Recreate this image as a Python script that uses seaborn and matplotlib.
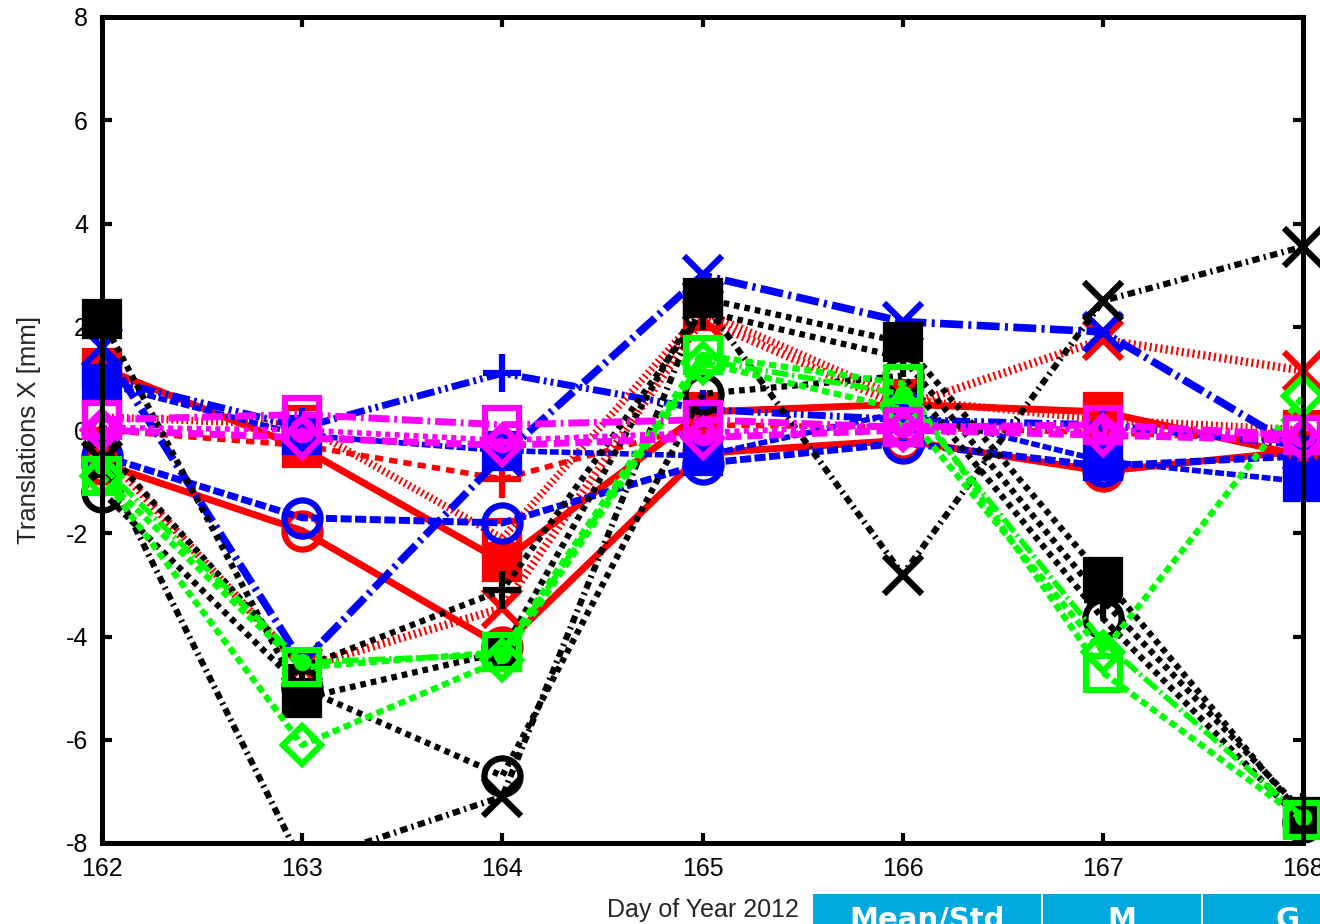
import matplotlib
matplotlib.use("Agg")
import matplotlib.pyplot as plt
import seaborn as sns
from matplotlib.patches import Rectangle

# ---------------- data ----------------
days = [162, 163, 164, 165, 166, 167, 168]
x_ticks = [162, 163, 164, 165, 166, 167, 168]
y_ticks = [-8, -6, -4, -2, 0, 2, 4, 6, 8]

red_circle = [-0.65, -1.95, -4.2, -0.45, -0.2, -0.8, -0.4]
red_square = [1.2, -0.35, -2.55, 0.35, 0.5, 0.35, -0.5]
red_cross = [-0.4, -4.6, -3.45, 2.15, 0.45, 1.75, 1.15]
red_plus = [0.0, -0.3, -0.95, 0.1, 0.05, -0.05, -0.2]
red_osquare = [0.25, 0.1, -2.1, 2.3, 0.6, 0.2, 0.0]

blue_cross = [1.6, -4.5, -0.5, 3.0, 2.1, 1.9, -0.4]
blue_plus = [1.0, 0.05, 1.1, 0.4, 0.2, 0.1, -0.3]
blue_circle = [-0.5, -1.7, -1.8, -0.65, -0.25, -0.7, -0.5]
blue_square = [0.9, -0.1, -0.4, -0.5, 0.35, -0.6, -1.0]

black_cross = [-0.6, -8.4, -7.1, 2.5, -2.8, 2.5, 3.55]
black_circle = [-1.2, -5.0, -6.7, 0.7, 1.05, -3.65, -7.6]
black_square = [2.15, -5.2, -4.3, 2.55, 1.7, -2.85, -7.5]
black_plus = [-0.3, -4.6, -3.1, 2.3, 1.4, -3.3, -7.4]

green_osquare = [-0.9, -4.6, -4.3, 1.45, 0.9, -4.7, -7.55]
green_diamond = [-0.9, -6.1, -4.45, 1.3, 0.4, -4.3, 0.65]
green_dot = [-0.7, -4.5, -4.35, 1.35, 0.7, -4.1, -7.5]

magenta_osquare = [0.2, 0.3, 0.1, 0.2, 0.05, 0.1, -0.1]
magenta_diamond = [0.0, -0.15, -0.3, -0.15, 0.0, -0.1, -0.2]
magenta_circle = [0.05, 0.0, -0.2, -0.05, 0.1, 0.0, -0.1]

table_headers = ["Mean/Std", "M", "G"]

# ---------------- styles ----------------
RED, BLUE, BLACK, GREEN, MAG = "#ff0000", "#0000ff", "#000000", "#00ff00", "#ff00ff"
solid = "-"
dotted = (0, (0.9, 0.8))
dense = (0, (1.6, 0.5))
dashed = (0, (1.5, 1.1))
dashdot = (0, (3.0, 0.7, 0.4, 0.7))
dashdotdot = (0, (2.6, 0.6, 0.4, 0.6, 0.4, 0.6))
kdashdot = (0, (1.2, 0.7, 0.35, 0.7))
fine = (0, (0.25, 0.4))
gdot = (0, (1.2, 0.7))
mdash = (0, (2.2, 0.9))

# (values, color, linestyle, lw, marker, markersize, filled)
series = [
    (red_circle, RED, solid, 5.0, "o", 26, False),
    (red_square, RED, solid, 5.0, "s", 25, True),
    (red_cross, RED, fine, 6.0, "x", 27, False),
    (red_plus, RED, dashed, 4.0, "+", 27, False),
    (red_osquare, RED, fine, 5.5, "s", 25, False),
    (blue_cross, BLUE, dashdot, 5.5, "x", 27, False),
    (blue_plus, BLUE, dashdotdot, 5.0, "+", 27, False),
    (blue_circle, BLUE, dense, 5.0, "o", 26, False),
    (blue_square, BLUE, dense, 4.0, "s", 25, True),
    (black_cross, BLACK, kdashdot, 4.5, "x", 27, False),
    (black_circle, BLACK, dotted, 4.5, "o", 26, False),
    (black_square, BLACK, dotted, 4.5, "s", 25, True),
    (black_plus, BLACK, dotted, 4.5, "+", 27, False),
    (green_osquare, GREEN, gdot, 4.5, "s", 25, False),
    (green_diamond, GREEN, gdot, 4.5, "D", 19, False),
    (green_dot, GREEN, dashdot, 4.0, "o", 8, True),
    (magenta_osquare, MAG, dashdot, 5.0, "s", 25, False),
    (magenta_diamond, MAG, mdash, 5.0, "D", 19, False),
    (magenta_circle, MAG, dotted, 4.0, "o", 14, False),
]

# ---------------- figure ----------------
sns.set_theme(style="white")
plt.rcParams["font.family"] = ["Liberation Sans", "DejaVu Sans"]

fig = plt.figure(figsize=(13.2, 9.24), dpi=100)
ax = fig.add_axes([102 / 1320, 1 - 843 / 924, (1303 - 102) / 1320, (843 - 17) / 924])

YMIN, YMAX = -8, 8
for i, (vals, col, ls, lw, mk, ms, filled) in enumerate(series):
    z = 3 + i * 0.1
    sns.lineplot(x=days, y=vals, ax=ax, color=col, linestyle=ls, lw=lw,
                 errorbar=None, legend=False, zorder=z, sort=False)
    xs = [d for d, v in zip(days, vals) if YMIN <= v <= YMAX]
    ys = [v for v in vals if YMIN <= v <= YMAX]
    sns.lineplot(x=xs, y=ys, ax=ax, color=col, linestyle="none", marker=mk,
                 markersize=ms, mec=col, mfc=(col if filled else "none"),
                 mew=4.5, errorbar=None, legend=False, zorder=z + 0.05,
                 clip_on=False, sort=False)

ax.set_xlim(162, 168)
ax.set_ylim(YMIN, YMAX)
ax.set_xticks(x_ticks)
ax.set_yticks(y_ticks)
ax.set_xticklabels([str(t) for t in x_ticks])
ax.set_yticklabels([str(t) for t in y_ticks])
ax.tick_params(axis="both", which="both", direction="in", length=7, width=3,
               labelsize=18, colors="black", top=True, right=True,
               bottom=True, left=True, pad=10)
for sp in ax.spines.values():
    sp.set_linewidth(3.6)
    sp.set_color("black")
    sp.set_zorder(10)
ax.set_xlabel("Day of Year 2012", fontsize=18, labelpad=12)
ax.set_ylabel("Translations X [mm]", fontsize=18.5, labelpad=18)
ax.grid(False)

# ---------------- header strip (bottom right) ----------------
cells = [(813, 1041), (1043, 1201), (1203, 1372)]
for (x0, x1), label in zip(cells, table_headers):
    fig.patches.append(Rectangle((x0 / 1320, 0), (x1 - x0) / 1320, (924 - 894) / 924,
                                 transform=fig.transFigure, facecolor="#02a9de",
                                 edgecolor="none", zorder=5))
    fig.text((x0 + x1) / 2 / 1320, 1 - 906 / 924, label, color="white",
             fontsize=21, fontweight="bold", family="DejaVu Sans",
             ha="center", va="top", zorder=6)

fig.savefig("out.png", dpi=100)
